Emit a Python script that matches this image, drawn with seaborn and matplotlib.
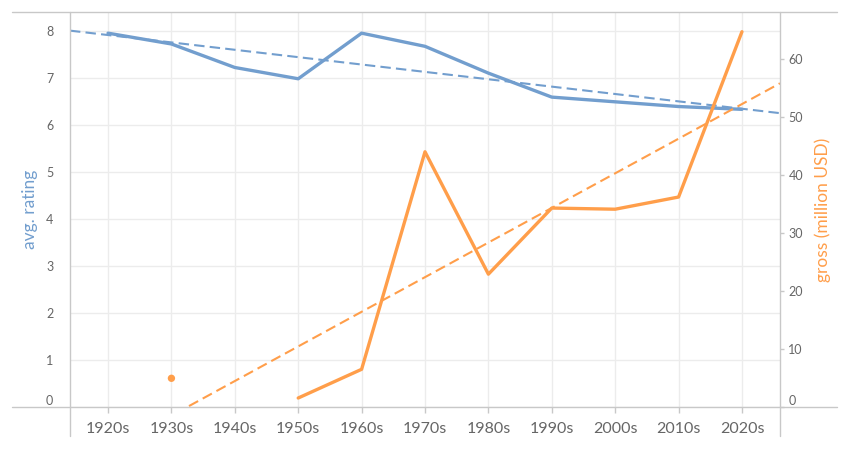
import numpy as np
import pandas as pd
import matplotlib
matplotlib.use("Agg")
import matplotlib.pyplot as plt
import seaborn as sns
from matplotlib.lines import Line2D

# ---- data ----
decades = ["1920s", "1930s", "1940s", "1950s", "1960s", "1970s",
           "1980s", "1990s", "2000s", "2010s", "2020s"]
avg_rating = [7.95, 7.72, 7.22, 6.98, 7.95, 7.67, 7.10, 6.59, 6.49, 6.39, 6.33]
gross_musd = [np.nan, 4.95, np.nan, 1.55, 6.5, 44.0, 22.9, 34.3, 34.1, 36.2, 64.7]
left_ticks = [0, 1, 2, 3, 4, 5, 6, 7, 8]
right_ticks = [0, 10, 20, 30, 40, 50, 60]

BLUE = "#729ECE"
ORANGE = "#FF9E4A"
GRID = "#ececec"
FRAME = "#c8c8c8"
TXT = "#666666"

sns.set_theme(style="white")
plt.rcParams['font.family'] = ['Lato', 'DejaVu Sans']

df = pd.DataFrame({"pos": np.arange(len(decades)), "decade": decades,
                   "rating": avg_rating, "gross": gross_musd})

W, H = 850, 450
fig = plt.figure(figsize=(W / 100, H / 100), dpi=100)
fig.patch.set_facecolor("white")
ax = fig.add_axes([70 / W, (H - 407) / H, 710 / W, 395 / H])
ax2 = ax.twinx()

XLIM = (-0.6, 10.6)
ax.set_xlim(*XLIM)
ax.set_ylim(0, 8.4)
ax2.set_ylim(0, 68.1)

# grid
ax.set_axisbelow(True)
ax.grid(True, color=GRID, lw=1)
ax2.grid(False)

# rating line + trend
sns.lineplot(data=df, x="pos", y="rating", ax=ax, color=BLUE, lw=2.4, zorder=3)
sns.regplot(data=df, x="pos", y="rating", ax=ax, scatter=False, ci=None,
            truncate=False, line_kws=dict(color=BLUE, lw=1.5, ls=(0, (5, 2.5)), zorder=3))

# gross line segments (break at missing values) + trend
valid = df["gross"].notna().to_numpy()
seg_id = np.cumsum(~valid)
for sid in np.unique(seg_id[valid]):
    seg = df[valid & (seg_id == sid)]
    if len(seg) == 1:
        sns.scatterplot(data=seg, x="pos", y="gross", ax=ax2, color=ORANGE,
                        s=28, edgecolor="none", zorder=4)
    else:
        sns.lineplot(data=seg, x="pos", y="gross", ax=ax2, color=ORANGE, lw=2.4, zorder=4)
ax2.set_xlim(*XLIM)
sns.regplot(data=df, x="pos", y="gross", ax=ax2, scatter=False, ci=None,
            truncate=False, line_kws=dict(color=ORANGE, lw=1.5, ls=(0, (5, 2.5)), zorder=4))

ax.set_xlim(*XLIM)
ax.set_ylim(0, 8.4)
ax2.set_ylim(0, 68.1)

# ticks
ax.set_xticks(df["pos"])
ax.set_xticklabels(decades)
ax.tick_params(axis="x", bottom=True, length=4, width=1, color=FRAME, pad=7,
               labelsize=11.5, labelcolor=TXT)
ax.set_yticks(left_ticks)
ax.set_yticklabels([str(t) for t in left_ticks])
ax.tick_params(axis="y", left=False, pad=6, labelsize=9, labelcolor=TXT)
ax2.set_yticks(right_ticks)
ax2.set_yticklabels([str(t) for t in right_ticks])
ax2.tick_params(axis="y", right=True, length=3, width=1, color=FRAME, pad=3,
                labelsize=9, labelcolor=TXT)
ax.get_yticklabels()[0].set_va("bottom")
ax2.get_yticklabels()[0].set_va("bottom")

for a in (ax, ax2):
    for s in a.spines.values():
        s.set_visible(False)

ax.set_xlabel("")
ax.set_ylabel("avg. rating", color=BLUE, fontsize=12.5)
ax.yaxis.set_label_coords((38 - 70) / 710, 0.5)
ax2.set_xlabel("")
ax2.set_ylabel("gross (million USD)", color=ORANGE, fontsize=12.5)
ax2.yaxis.set_label_coords((814 - 70) / 710, 0.5)

# pane frame lines (figure coords)
def hline(y, x0, x1):
    fig.add_artist(Line2D([x0 / W, x1 / W], [1 - y / H, 1 - y / H], color=FRAME, lw=1))

def vline(x, y0, y1):
    fig.add_artist(Line2D([x / W, x / W], [1 - y0 / H, 1 - y1 / H], color=FRAME, lw=1))

hline(12, 12, 837)
hline(407, 12, 837)
vline(70, 12, 436)
vline(780, 12, 436)

fig.savefig("out.png", dpi=100, facecolor="white")
